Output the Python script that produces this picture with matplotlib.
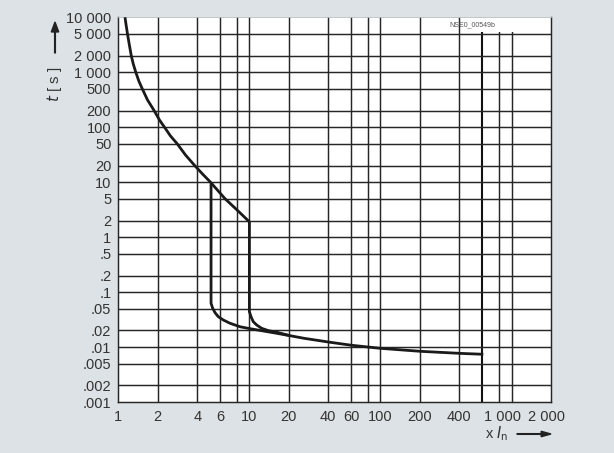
import matplotlib
matplotlib.use("Agg")
import matplotlib.pyplot as plt
from matplotlib.patches import Rectangle, FancyArrow
from matplotlib.ticker import FixedLocator, NullFormatter
from matplotlib.transforms import ScaledTranslation

# ---- data ----
# thermal (overload) branch, shared by both characteristics
thermal_x = [1.125, 1.147, 1.175, 1.211, 1.256, 1.301, 1.36, 1.434, 1.524, 1.671,
             1.878, 2.063, 2.251, 2.502, 2.814, 3.256, 3.833, 4.389, 5.05, 6.52,
             8.05, 10.0]
thermal_y = [10000, 7244, 5000, 3266, 2000, 1413, 1000, 693, 500, 313,
             200, 135, 100, 69.2, 50, 31.2, 20, 14.1, 10, 5,
             3.12, 1.9]

# instantaneous trip at 5 x In
trip5_x = [5.1, 5.1, 5.25, 5.47, 5.79, 6.32, 7.11, 8.48, 10.1, 12.77, 16.16,
           20.4, 26.1, 33.6, 41.2, 60.3, 99.2, 200.3, 404.5, 609]
trip5_y = [9.5, 0.0625, 0.0507, 0.0422, 0.0357, 0.0311, 0.0271, 0.0234, 0.0216,
           0.0196, 0.0178, 0.0161, 0.01443, 0.01316, 0.01222, 0.01077, 0.00949,
           0.00837, 0.00767, 0.00738]

# instantaneous trip at 10 x In
trip10_x = [10.0, 10.0, 10.29, 10.71, 11.37, 12.42, 13.95, 16.16, 20.4]
trip10_y = [1.9, 0.044, 0.0357, 0.0289, 0.0252, 0.0219, 0.0199, 0.0186, 0.0161]

x_grid = [2, 4, 6, 8, 10, 20, 40, 60, 80, 100, 200, 400, 800, 1000]
x_heavy = [600]
y_grid = [5000, 2000, 1000, 500, 200, 100, 50, 20, 10, 5, 2, 1, 0.5, 0.2, 0.1,
          0.05, 0.02, 0.01, 0.005, 0.002]

x_ticks = [1, 2, 4, 6, 10, 20, 40, 60, 100, 200, 400, 1000, 2000]
x_ticklabels = ["1", "2", "4", "6", "10", "20", "40", "60", "100", "200", "400",
                "1 000", "2 000"]
y_ticks = [10000, 5000, 2000, 1000, 500, 200, 100, 50, 20, 10, 5, 2, 1, 0.5, 0.2,
           0.1, 0.05, 0.02, 0.01, 0.005, 0.002, 0.001]
y_ticklabels = ["10 000", "5 000", "2 000", "1 000", "500", "200", "100", "50", "20",
                "10", "5", "2", "1", ".5", ".2", ".1", ".05", ".02", ".01", ".005",
                ".002", ".001"]

plt.rcParams['font.family'] = ['Liberation Sans', 'DejaVu Sans']

BG = '#dce2e5'
TXT = '#333333'
GRID = '#262626'
CURVE = '#1a1a1a'

W, H = 614, 453
fig = plt.figure(figsize=(W / 100, H / 100), dpi=100, facecolor=BG)
L, R, T, B = 118.3, 551, 17.3, 402
ax = fig.add_axes([L / W, 1 - B / H, (R - L) / W, (B - T) / H])
ax.set_facecolor('white')
ax.set_xscale('log')
ax.set_yscale('log')
ax.set_xlim(1, 2000)
ax.set_ylim(0.001, 10000)

for xv in x_grid:
    ax.axvline(xv, color=GRID, lw=1.05, zorder=1)
for xv in x_heavy:
    ax.axvline(xv, color='#111111', lw=1.5, zorder=1)
for yv in y_grid:
    ax.axhline(yv, color=GRID, lw=1.05, zorder=1)

# white label box at the top right
ax.add_patch(Rectangle((415, 5300), 2000 - 415, 10000 - 5300, facecolor='white',
                       edgecolor='none', zorder=2))
ax.text(500, 7300, "NSE0_00549b", fontsize=5, color='#555555', ha='center',
        va='center', zorder=3)

for xs, ys in [(thermal_x, thermal_y), (trip5_x, trip5_y), (trip10_x, trip10_y)]:
    ax.plot(xs, ys, color=CURVE, lw=2.0, zorder=4,
            solid_capstyle='butt', solid_joinstyle='round')

for s in ax.spines.values():
    s.set_color(GRID)
    s.set_linewidth(1.05)
ax.spines['top'].set_color('#bbbbbb')
ax.spines['top'].set_linewidth(0.6)

ax.set_xticks(x_ticks)
ax.set_xticklabels(x_ticklabels)
ax.set_yticks(y_ticks)
ax.set_yticklabels(y_ticklabels)
ax.xaxis.set_minor_locator(FixedLocator([1, 10, 100, 1000]))
ax.yaxis.set_minor_locator(FixedLocator([0.001, 10000]))
ax.xaxis.set_minor_formatter(NullFormatter())
ax.yaxis.set_minor_formatter(NullFormatter())
ax.tick_params(which='major', length=0, labelsize=10.5, labelcolor=TXT)
ax.tick_params(axis='x', which='major', pad=6)
ax.tick_params(axis='y', which='major', pad=5)
ax.tick_params(which='minor', length=3, width=1.05, color=GRID, direction='out')

# slight left shift of the crowded last labels
for lab, dx in zip(ax.get_xticklabels()[-2:], [-9, -4]):
    lab.set_transform(lab.get_transform() + ScaledTranslation(dx / 100, 0, fig.dpi_scale_trans))

# axis titles with arrows
fig.text(55 / W, 1 - 84 / H, r"$t$ [ s ]", rotation=90, ha='center', va='center',
         fontsize=11, color=TXT)
fig.patches.append(FancyArrow(
    55 / W, 1 - 53 / H, 0, (53 - 22) / H, width=0.0012, head_width=0.012,
    head_length=0.022, length_includes_head=True, color='#222222',
    transform=fig.transFigure))
fig.text(497 / W, 1 - 434 / H, r"x $I_\mathrm{n}$", ha='center', va='center',
         fontsize=10.5, color=TXT)
fig.patches.append(FancyArrow(
    517 / W, 1 - 434 / H, (551 - 517) / W, 0, width=0.0015, head_width=0.012,
    head_length=0.016, length_includes_head=True, color='#222222',
    transform=fig.transFigure))

fig.savefig("out.png", dpi=100, facecolor=BG)
